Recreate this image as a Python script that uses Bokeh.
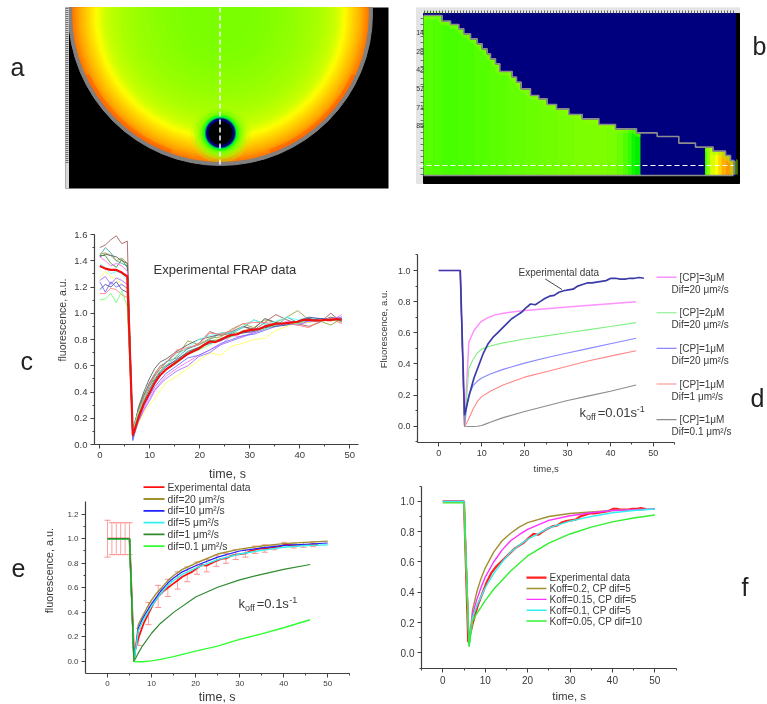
import math
from bokeh.plotting import figure
from bokeh.layouts import column, row
from bokeh.embed import file_html
from bokeh.resources import INLINE
from bokeh.core.properties import value
from bokeh.models import Range1d, LinearAxis, SingleIntervalTicker, NumeralTickFormatter

FONT = "Liberation Sans"
INK = "#3a3a3a"
SOFT = {"filter": "blur(0.55px)"}

# ---------- panel a : radial fluorescence field (picture cells) ----------
field_radius = [150, 148, 146, 144, 142, 140, 138, 136, 134, 132, 130, 128, 126, 124, 122, 120, 118, 116, 114, 112, 109, 106, 103,
                100, 95, 90, 85, 80, 72, 65, 57, 50, 40, 30]
field_color = ["#ff7000", "#ff7e00", "#ff8c00", "#ff9a00", "#ffa800", "#ffb400", "#ffbe00", "#ffc800", "#ffd200",
               "#ffdc00", "#ffe600", "#fff000", "#fffa00", "#f6ff00", "#eaff00", "#deff00", "#d4ff00", "#ccff00", "#c6ff00", "#c0ff00",
               "#baff00", "#b4ff00", "#aeff00", "#a8ff00", "#a3ff00", "#9eff00", "#99ff00", "#94ff00", "#8eff00", "#89ff00", "#84ff00",
               "#80ff00", "#7cff00", "#7aff00"]
spot_radius = [30, 26, 23, 20.5, 18.5, 17, 15.6, 14.5, 12]
spot_color = ["#a8ff00", "#98ff00", "#88ff00", "#70ff00", "#40ff00", "#00ff30", "#008a60", "#00007f", "#000000"]
spot_alpha = [0.3, 0.5, 0.7, 0.9, 1, 1, 1, 1, 1]

# ---------- panel b : staircase cross-section (zoomed picture cells) ----------
stair_x = [70, 125, 125, 150, 150, 175, 175, 190, 190, 210, 210, 230, 230, 245, 245, 260, 260, 270, 270, 285, 285, 298, 298, 335, 335,
           348, 348, 362, 362, 390, 390, 415, 415, 440, 440, 468, 468, 505, 505, 545, 545, 595, 595, 645, 645, 708, 708, 770, 770,
           835, 835, 885, 885, 938, 938, 975, 975, 990, 990, 1000, 1000]
stair_y = [45, 45, 62, 62, 72, 72, 85, 85, 100, 100, 115, 115, 130, 130, 145, 145, 160, 160, 175, 175, 190, 190, 213, 213, 230,
           230, 245, 245, 265, 265, 285, 285, 295, 295, 312, 312, 325, 325, 342, 342, 355, 355, 372, 372, 385, 385, 397, 397, 408,
           408, 428, 428, 440, 440, 452, 452, 465, 465, 480, 480, 522]
band_edges = [70, 100, 130, 170, 220, 270, 320, 370, 420, 470, 520, 570, 620, 650, 670, 685, 695, 705, 722, 912, 920, 930, 945, 955, 965, 978, 1000]
band_colors = ["#58ff00", "#50ff00", "#48ff00", "#4cff00", "#54ff00", "#5cff00", "#64ff00", "#6aff00", "#70ff00", "#76ff00", "#7cff00", "#7eff00",
               "#7aff00", "#68ff00", "#50ff00", "#30ff00", "#10f800", "#00f000",
               "#00007f", "#30ff00", "#90ff00", "#d8ff00", "#ffff00", "#ffd800", "#ffb000", "#ff9800"]
depth_ticks = ["14", "28", "42", "57", "71", "85"]
depth_tick_y = [97, 152, 208, 265, 320, 375]

# ---------- panel c : experimental FRAP data ----------
c_time = [0, 1.1, 2.2, 3.3, 4.4, 5.5, 6.6, 7.7, 8.8, 9.9, 11, 12.1, 13.2, 15.4, 17.6, 19.8, 22, 24.2, 26.4, 28.6, 30.8, 33, 35.2,
          37.4, 39.6, 41.8, 44, 46.2, 48.4]
c_traces = {
    "#a86060": [1.50, 1.52, 1.56, 1.59, 1.53, 1.55, .05, .24, .37, .47, .54, .60, .62, .70, .73, .77, .86, .83, .85, .90, .87, .93, .99, .95, .92, .90, .93, 1.00, .93],
    "#40a8a8": [1.44, 1.50, 1.46, 1.40, 1.38, 1.36, .10, .27, .38, .46, .53, .58, .63, .66, .73, .76, .80, .85, .85, .89, .95, .92, .90, .97, .93, .96, .95, .94, .97],
    "#a0a040": [1.45, 1.46, 1.44, 1.40, 1.42, 1.38, .07, .23, .35, .44, .52, .58, .60, .67, .79, .76, .81, .82, .88, .92, .89, .95, .93, .97, 1.02, .95, .94, .91, .96],
    "#40a040": [1.44, 1.44, 1.38, 1.35, 1.41, 1.35, .12, .26, .37, .45, .50, .56, .60, .64, .71, .74, .79, .80, .85, .85, .87, .90, .91, .93, .92, .95, .96, .95, .96],
    "#606060": [1.43, 1.45, 1.44, 1.43, 1.40, 1.38, .06, .28, .40, .50, .58, .63, .65, .71, .76, .80, .82, .84, .86, .90, .88, .96, .93, .92, .94, .96, .94, .97, .95],
    "#ff70ff": [1.43, 1.40, 1.36, 1.38, 1.36, 1.32, .05, .18, .27, .35, .42, .47, .52, .58, .63, .68, .72, .76, .83, .82, .86, .89, .90, .94, .92, .93, .95, .94, .99],
    "#70ffff": [1.38, 1.35, 1.30, 1.32, 1.30, 1.25, .10, .25, .34, .43, .49, .55, .60, .68, .74, .80, .83, .85, .85, .90, .95, .91, .94, .97, .95, .97, .95, .96, .95],
    "#ffff60": [1.27, 1.32, 1.28, 1.26, 1.22, 1.18, .05, .16, .24, .30, .35, .41, .47, .52, .58, .64, .70, .68, .75, .77, .80, .81, .87, .90, .93, .93, .95, .94, .96],
    "#a070ff": [1.25, 1.28, 1.22, 1.27, 1.25, 1.22, .04, .17, .26, .33, .41, .46, .50, .56, .60, .67, .70, .76, .79, .82, .85, .88, .92, .92, .91, .94, .94, .96, .97],
    "#7070ff": [1.24, 1.16, 1.24, 1.20, 1.22, 1.19, .03, .20, .29, .37, .44, .49, .54, .60, .66, .68, .72, .77, .80, .83, .84, .87, .90, .92, .93, .94, .96, .95, .96],
    "#5050a8": [1.18, 1.22, 1.20, 1.24, 1.18, 1.16, .06, .22, .33, .42, .49, .55, .59, .65, .70, .74, .77, .79, .83, .85, .86, .89, .90, .91, .94, .97, .96, .95, .94],
    "#ff8080": [1.15, 1.15, 1.19, 1.18, 1.14, 1.12, .07, .25, .36, .45, .52, .58, .62, .72, .74, .76, .85, .84, .87, .92, .93, .93, .92, .93, .91, .89, .94, .96, .92],
    "#70ff70": [1.10, 1.11, 1.15, 1.08, 1.17, 1.05, .09, .24, .33, .41, .48, .53, .57, .62, .69, .72, .76, .81, .82, .87, .87, .88, .91, .93, .92, .95, .94, .95, .94],
}
mean_time = [0, 1.1, 2.2, 3.3, 4.4, 5.5, 6.6, 7.7, 8.8, 9.9, 11, 12.1, 13.2, 14.3, 15.4, 16.5, 17.6, 18.7, 19.8, 20.9, 22, 23.1, 24.2,
             25.3, 26.4, 27.5, 28.6, 29.7, 30.8, 31.9, 33, 34.1, 35.2, 36.3, 37.4, 38.5, 39.6, 40.7, 41.8, 42.9, 44, 45.1, 46.2, 47.3, 48.4]
mean_pre = [1.36, 1.34, 1.33, 1.33, 1.31, 1.28]
mean_post = [.07, .20, .31, .39, .47, .53, .57, .60, .63, .66, .69, .71, .73, .76, .785, .78, .80, .82, .835, .84, .86, .87, .875, .88,
             .90, .91, .92, .92, .925, .93, .935, .95, .95, .945, .945, .95, .95, .955, .95]

# normalised experimental curve used by panels d, e, f
exp_time = [0, 1, 2, 3, 4, 5] + [6.0, 7.1, 8.2, 9.3, 10.4, 11.5, 12.6, 13.7, 14.8, 15.9, 17.0, 18.1, 19.2, 20.3, 21.4, 22.5, 23.6, 24.7,
                                 25.8, 26.9, 28.0, 29.1, 30.2, 31.3, 32.4, 33.5, 34.6, 35.7, 36.8, 37.9, 39.0, 40.1, 41.2, 42.3, 43.4,
                                 44.5, 45.6, 46.7, 47.8]
exp_value = [1, 1, 1, 1, 1, 1] + mean_post
exp_error = [.15, .13, .13, .13, .13, .13, .04, .07, .08, .09, .09, .09, .08, .07, .07, .07, .06, .06, .06, .05, .05, .05, .05, .045, .04,
             .04, .04, .04, .03, .03, .03, .03, .03, .03, .03, .02, .02, .02, .02, .02, .02, .02, .02, .02, .02]

# ---------- panel d ----------
d_pre_t = [0, 5]
d_pre_v = [1, 1]
d_labels_top = ["[CP]=3\u03bcM", "[CP]=2\u03bcM", "[CP]=1\u03bcM", "[CP]=1\u03bcM", "[CP]=1\u03bcM"]
d_labels_bot = ["Dif=20 \u03bcm\u00b2/s", "Dif=20 \u03bcm\u00b2/s", "Dif=20 \u03bcm\u00b2/s", "Dif=1 \u03bcm\u00b2/s", "Dif=0.1 \u03bcm\u00b2/s"]
d_colors = ["#ff90ff", "#80f080", "#8888ff", "#ff8888", "#8c8c8c"]
d_t = [
    [6, 7, 8.2, 9.7, 11.3, 13.2, 15.1, 19, 22.9, 30.7, 38.4, 46],
    [6, 7, 8, 9, 10, 12, 15, 20, 25, 30, 35, 40, 46],
    [6, 6.5, 7, 8, 9, 10, 12, 15, 20, 25, 30, 35, 40, 46],
    [6, 6.5, 7, 8, 9, 10, 12, 15, 20, 25, 30, 35, 40, 46],
    [6, 7, 8, 9, 10, 11, 12, 15, 20, 25, 30, 35, 40, 46],
]
d_v = [
    [0, .54, .615, .668, .696, .715, .726, .74, .75, .767, .784, .80],
    [0, .37, .43, .47, .495, .515, .535, .56, .58, .60, .62, .64, .665],
    [0, .12, .20, .26, .29, .31, .335, .365, .405, .44, .47, .50, .53, .565],
    [0, .02, .05, .11, .16, .19, .225, .265, .315, .35, .385, .42, .45, .485],
    [0, -.002, -.002, 0, .005, .015, .025, .055, .095, .13, .165, .195, .225, .265],
]

# ---------- panel e ----------
e_labels = ["Experimental data", "dif=20 \u03bcm\u00b2/s", "dif=10 \u03bcm\u00b2/s", "dif=5 \u03bcm\u00b2/s", "dif=1 \u03bcm\u00b2/s", "dif=0.1 \u03bcm\u00b2/s"]
e_colors = ["#ff1010", "#a09030", "#2020ff", "#30f0f0", "#308a30", "#30ff30"]
e_time = [0, 5, 6, 7, 8, 9, 10, 11, 12, 13, 14, 15, 17, 20, 25, 30, 35, 40, 45, 50]
e_20 = [1, 1, 0, .30, .37, .44, .50, .55, .59, .63, .67, .70, .75, .80, .875, .915, .94, .96, .97, .98]
e_10 = [1, 1, 0, .27, .35, .41, .47, .52, .57, .61, .65, .68, .73, .78, .85, .90, .925, .945, .955, .965]
e_5 = [1, 1, 0, .25, .33, .39, .45, .50, .55, .59, .63, .66, .71, .76, .83, .875, .905, .93, .945, .95]
e_time_slow = [0, 5, 6, 7, 8, 10, 12, 15, 20, 25, 30, 35, 40, 46]
e_1 = [1, 1, 0, .07, .13, .23, .31, .40, .525, .605, .665, .71, .75, .79]
e_01 = [1, 1, 0, -.002, -.002, .005, .017, .04, .085, .125, .18, .225, .275, .34]

# ---------- panel f ----------
f_labels = ["Experimental data", "Koff=0.2, CP dif=5", "Koff=0.15, CP dif=5", "Koff=0.1, CP dif=5", "Koff=0.05, CP dif=10"]
f_colors = ["#ff2020", "#a09030", "#ff30ff", "#30f0f0", "#30f030"]
f_time = [0, 5, 6.2, 7, 8, 9, 10, 12, 14, 16, 18, 20, 25, 30, 35, 40, 45, 50]
f_02 = [1, 1, .05, .28, .40, .49, .56, .665, .74, .79, .83, .86, .90, .92, .93, .94, .945, .95]
f_015 = [1, 1, .05, .25, .35, .43, .50, .60, .68, .74, .78, .815, .875, .905, .925, .94, .945, .95]
f_01 = [1, 1, .05, .23, .31, .37, .43, .525, .60, .665, .71, .75, .825, .87, .90, .925, .94, .95]
f_005 = [.99, .99, .04, .21, .26, .30, .345, .42, .48, .54, .59, .64, .725, .785, .83, .865, .89, .91]


def bare(x0, x1, y_top, y_bottom):
    """A figure without axes whose frame is addressed in picture pixels."""
    p = figure(width=x1 - x0, height=y_bottom - y_top, x_range=Range1d(x0, x1), y_range=Range1d(y_bottom, y_top),
               x_axis_type=None, y_axis_type=None, toolbar_location=None, output_backend="svg",
               min_border=0, outline_line_color=None, styles=SOFT)
    p.grid.visible = False
    return p


def top_panel(x0, x1, frame_right):
    """Top-row figure: its frame spans picture rows 7-188 so that neighbours stay aligned."""
    p = figure(width=x1 - x0, height=206, x_range=Range1d(x0, frame_right), y_range=Range1d(188, 7),
               x_axis_type=None, y_axis_type=None, toolbar_location=None, output_backend="svg",
               min_border_left=0, min_border_right=x1 - frame_right, min_border_top=7, min_border_bottom=18,
               outline_line_color=None, styles=SOFT)
    p.grid.visible = False
    return p


def note(p, x, y, s, size=12, color=INK, align="left", off=0, yoff=0, angle=0):
    p.text([x], [y], text=[s], text_font=value(FONT), text_font_size=f"{size}px", text_color=color,
           text_align=align, text_baseline="middle", x_offset=off, y_offset=yoff, angle=angle)


def axes(p, xb, yb, tick_size):
    xa = LinearAxis(ticker=SingleIntervalTicker(interval=10, num_minor_ticks=2), bounds=xb)
    ya = LinearAxis(ticker=SingleIntervalTicker(interval=0.2, num_minor_ticks=2), bounds=yb,
                    formatter=NumeralTickFormatter(format="0.0"))
    for ax in (xa, ya):
        ax.major_label_text_font = FONT
        ax.major_label_text_font_size = f"{tick_size}px"
        ax.major_label_text_color = INK
        ax.major_label_standoff = 3
        ax.axis_line_color = "#404040"
        ax.axis_line_width = 1.2
        ax.major_tick_line_color = "#404040"
        ax.minor_tick_line_color = "#404040"
        ax.major_tick_in = 0
        ax.major_tick_out = 4
        ax.minor_tick_in = 0
        ax.minor_tick_out = 2
    p.add_layout(xa, "below")
    p.add_layout(ya, "left")


def chart(width, height, left, bottom, x0, x1, y0, y1):
    p = figure(width=width, height=height, x_range=Range1d(x0, x1), y_range=Range1d(y0, y1),
               x_axis_type=None, y_axis_type=None, toolbar_location=None, output_backend="svg",
               min_border_left=left, min_border_bottom=bottom, min_border_top=0, min_border_right=0,
               outline_line_color=None, styles=SOFT)
    p.grid.visible = False
    return p


def koff(p, x, y, s, size=13):
    note(p, x, y, "k", size)
    note(p, x, y, "off", size - 4, off=size * 0.5, yoff=4)
    note(p, x, y, s[0], size, off=size * 1.4)
    note(p, x, y, s[1], size - 4, off=size * 1.4 + len(s[0]) * size * 0.5, yoff=-4)


# ================= a =================
a_side = top_panel(0, 65, 65)
note(a_side, 10, 66, "a", 25, "#222222")
a = top_panel(65, 400, 388)
a.quad(left=[60], right=[395], top=[0], bottom=[195], color="#000000")
n = len(field_radius)
a.circle(x=[220] * n, y=[13] * n, radius=field_radius, fill_color=field_color, line_color=None)
a.annular_wedge(x=[220, 220], y=[13, 13], inner_radius=[145, 145], outer_radius=[149.5, 149.5],
                start_angle=[math.radians(205), math.radians(290)], end_angle=[math.radians(250), math.radians(335)],
                color="#ff3000", alpha=0.22)
m = len(spot_radius)
a.circle(x=[220] * m, y=[132.5] * m, radius=spot_radius, fill_color=spot_color, fill_alpha=spot_alpha, line_color=None)
a.annulus(x=[220], y=[13], inner_radius=[149], outer_radius=[152], color="#808080")
a.segment(x0=[219.5], x1=[219.5], y0=[7], y1=[165], line_color="#ffffff", line_width=1.5, line_dash="5 3")
a.quad(left=[60], right=[68], top=[0], bottom=[195], color="#d8d8d8")
a_ticks = list(range(8, 164, 2))
a.segment(x0=[65] * len(a_ticks), x1=[68] * len(a_ticks), y0=a_ticks, y1=a_ticks, line_color="#555555", line_width=0.8)

# ================= b =================
b = top_panel(400, 767, 767)
sx = [400 + v / 3 for v in stair_x]
sy = [v / 3 for v in stair_y]
b.quad(left=[416], right=[739], top=[7], bottom=[183], color="#e4e4e4")
b.quad(left=[423], right=[739], top=[13], bottom=[183], color="#000000")
b.quad(left=[423], right=[735], top=[13], bottom=[175], color="#00007f")
b.quad(left=[400 + v / 3 for v in band_edges[:-1]], right=[400 + v / 3 for v in band_edges[1:]],
       top=[13] * len(band_colors), bottom=[174] * len(band_colors), color=band_colors)
b.line(sx, sy, line_color="#90ff00", line_width=8, line_alpha=0.45)
b.patch(sx[:-1] + [735, 735, 423], sy[:-1] + [sy[-2], 13, 13], color="#00007f")
b.quad(left=[400 + 722 / 3], right=[400 + 912 / 3], top=[sy[sy.index(397 / 3)]], bottom=[174], color="#00007f")
b.line(sx, sy, line_color="#8c8c8c", line_width=1.6)
b.segment(x0=[423], x1=[733], y0=[175], y1=[175], line_color="#8c8c8c", line_width=1.6)
b.segment(x0=[418], x1=[733], y0=[165], y1=[165], line_color="#ffffff", line_width=1, line_dash="5 3")
top_ticks = list(range(424, 736, 3))
b.segment(x0=top_ticks, x1=top_ticks, y0=[10] * len(top_ticks), y1=[13] * len(top_ticks), line_color="#444444", line_width=0.8)
left_ticks = list(range(18, 176, 6))
b.segment(x0=[420] * len(left_ticks), x1=[423] * len(left_ticks), y0=left_ticks, y1=left_ticks, line_color="#555555", line_width=0.8)
for lab, zy in zip(depth_ticks, depth_tick_y):
    note(b, 423.5, zy / 3, lab, 7, "#333333", align="right")
note(b, 752, 45, "b", 25, "#222222")

# ================= c =================
c_side = bare(0, 68, 206, 464)
note(c_side, 20, 373, "c", 25, "#222222")
note(c_side, 61, 329, "fluorescence, a.u.", 10.5, align="center", angle=math.pi / 2)
c = chart(302, 258, 26, 20, (94 - 99.3) / 5, (370 - 99.3) / 5, 0, 238 / 131.25)
axes(c, (-1.06, 51.8), (0, 1.6), 9.5)
for col, vals in c_traces.items():
    c.line(c_time, vals, line_color=col, line_width=0.9)
c.line(mean_time, mean_pre + mean_post, line_color="#f01010", line_width=2.2)
note(c, (153 - 99.3) / 5, (444 - 269) / 131.25, "Experimental FRAP data", 13, "#333333")
c_under = bare(0, 370, 464, 480)
note(c_under, 227, 473, "time, s", 12.5, align="center")

# ================= d =================
DX = lambda px: (px - 438.3) / 4.29
DY = lambda px: (425.7 - px) / 155.7
d_side = bare(370, 390, 206, 462)
note(d_side, 383, 339, "Fluorescence, a.u.", 9.5, align="center", angle=math.pi / 2)
d = chart(377, 256, 27, 20, DX(417), DX(767), DY(442), DY(206))
axes(d, (DX(417), 55), (DY(442), 1.105), 9)
for col, tt, vv, l1, l2, i in zip(d_colors, d_t, d_v, d_labels_top, d_labels_bot, range(5)):
    d.line(d_pre_t + tt, d_pre_v + vv, line_color=col, line_width=1.5 if i == 0 else 1.1)
    y1 = 276.7 + i * 35.6
    d.segment(x0=[DX(656)], x1=[DX(676)], y0=[DY(y1)], y1=[DY(y1)], line_color=col, line_width=1.5 if i == 0 else 1.1)
    note(d, DX(679), DY(y1), l1, 10)
    note(d, DX(671), DY(y1 + 12), l2, 10)
d.line(exp_time, exp_value, line_color="#3c3ca8", line_width=1.7)
note(d, DX(518), DY(271.7), "Experimental data", 10)
d.segment(x0=[24.8], x1=[28.7], y0=[.946], y1=[.878], line_color="#333333", line_width=0.9)
koff(d, DX(579), DY(412), ("=0.01s", "-1"))
note(d, DX(750), DY(397), "d", 25, "#222222")
d_under = bare(370, 767, 462, 480)
note(d_under, 545.7, 468, "time,s", 9.5, align="center")

# ================= e =================
EX = lambda px: (px - 107) / 4.405
EY = lambda px: (661 - px) / 122.8
e_side = bare(0, 60, 480, 690)
note(e_side, 11, 575, "e", 25, "#222222")
note(e_side, 48, 578, "fluorescence, a.u.", 10.8, align="center", angle=math.pi / 2)
e = chart(325, 210, 25, 17, EX(85), EX(385), EY(673), EY(480))
axes(e, (EX(85), 55), (EY(673), 1.3), 8)
err_idx = [0, 1, 2, 3, 4, 5] + list(range(7, len(exp_time), 2))
err_t = [exp_time[i] for i in err_idx]
err_lo = [exp_value[i] - exp_error[i] for i in err_idx]
err_hi = [exp_value[i] + exp_error[i] for i in err_idx]
e.segment(x0=err_t, x1=err_t, y0=err_lo, y1=err_hi, line_color="#ffa0a0", line_width=1)
e.scatter(err_t + err_t, err_lo + err_hi, marker="dash", size=6, line_color="#ff9090", line_width=1)
e.line(exp_time, exp_value, line_color=e_colors[0], line_width=1.8)
e.line(e_time, e_20, line_color=e_colors[1], line_width=1.4)
e.line(e_time, e_10, line_color=e_colors[2], line_width=1.2)
e.line(e_time, e_5, line_color=e_colors[3], line_width=1.4)
e.line(e_time_slow, e_1, line_color=e_colors[4], line_width=1.2)
e.line(e_time_slow, e_01, line_color=e_colors[5], line_width=1.4)
e.line(e_time_slow[:3], e_1[:3], line_color=e_colors[4], line_width=1.2)
for i, (lab, col) in enumerate(zip(e_labels, e_colors)):
    y1 = 486.7 + i * 11.8
    e.segment(x0=[EX(143)], x1=[EX(164)], y0=[EY(y1)], y1=[EY(y1)], line_color=col, line_width=1.8)
    note(e, EX(167), EY(y1), lab, 10.3)
koff(e, EX(238), EY(603), ("=0.1s", "-1"))
e_under = bare(0, 385, 690, 704)
note(e_under, 216.7, 696.7, "time, s", 12.5, align="center")

# ================= f =================
FX = lambda px: (px - 442.3) / 4.24
FY = lambda px: (653.3 - px) / 152.3
f = chart(382, 206, 36, 17, FX(421), FX(767), FY(669), FY(480))
axes(f, (FX(421), 55), (FY(669), 1.1), 10)
f.line(exp_time, exp_value, line_color=f_colors[0], line_width=2.2)
f.line(f_time, f_02, line_color=f_colors[1], line_width=1.4)
f.line(f_time, f_015, line_color=f_colors[2], line_width=1.4)
f.line(f_time, f_01, line_color=f_colors[3], line_width=1.4)
f.line(f_time, f_005, line_color=f_colors[4], line_width=1.4)
for i, (lab, col) in enumerate(zip(f_labels, f_colors)):
    y1 = 577.7 + i * 10.9
    f.segment(x0=[FX(526)], x1=[FX(546)], y0=[FY(y1)], y1=[FY(y1)], line_color=col, line_width=2.2 if i == 0 else 1.4)
    note(f, FX(549), FY(y1), lab, 10)
note(f, FX(741), FY(587), "f", 25, "#222222")
f_under = bare(385, 767, 686, 704)
note(f_under, 548, 695, "time, s", 11.5, align="center")

page = column(
    row(a_side, a, b),
    row(column(row(c_side, c), c_under), column(row(d_side, d), d_under)),
    row(column(row(e_side, e), e_under), column(f, f_under)),
)
open("out.html", "w").write(file_html(page, INLINE))
